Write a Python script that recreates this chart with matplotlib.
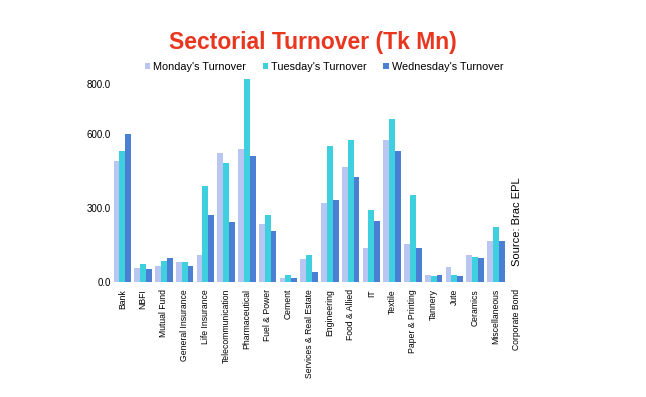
import matplotlib
matplotlib.use("Agg")
import matplotlib.pyplot as plt
import numpy as np

categories = ["Bank", "NBFI", "Mutual Fund", "General Insurance", "Life Insurance",
              "Telecommunication", "Pharmaceutical", "Fuel & Power", "Cement",
              "Services & Real Estate", "Engineering", "Food & Allied", "IT", "Textile",
              "Paper & Printing", "Tannery", "Jute", "Ceramics", "Miscellaneous",
              "Corporate Bond"]
monday = [490, 55, 65, 82, 109, 522, 538, 236, 15, 95, 320, 466, 136, 576, 155, 27, 62, 108, 166, 0]
tuesday = [532, 73, 85, 82, 389, 481, 823, 273, 27, 109, 551, 576, 292, 661, 353, 24, 27, 101, 223, 0]
wednesday = [600, 53, 97, 65, 273, 243, 511, 206, 15, 41, 331, 426, 247, 532, 136, 27, 24, 97, 166, 0]
series_names = ["Monday's Turnover", "Tuesday's Turnover", "Wednesday's Turnover"]
yticks = [0, 300, 600, 800]

colors = ["#b9c6f2", "#3fd0df", "#4b7fd3"]
plt.rcParams['font.family'] = ['Liberation Sans', 'DejaVu Sans']

fig = plt.figure(figsize=(6.46, 3.97), dpi=100)
W, H = 646, 397
left, right, bottom, top = 112, 527, 282, 77
ax = fig.add_axes([left / W, 1 - bottom / H, (right - left) / W, (bottom - top) / H])

x = np.arange(len(categories))
bw = 0.28
for i, (vals, name) in enumerate(zip([monday, tuesday, wednesday], series_names)):
    ax.bar(x + (i - 1) * bw, vals, bw, color=colors[i], label=name, edgecolor='none')

ax.set_xlim(-0.5, len(categories) - 0.5)
ax.set_ylim(0, 830)
ax.set_yticks(yticks)
ax.set_yticklabels([f"{v:.1f}" for v in yticks], fontsize=7)
ax.set_xticks(x)
ax.set_xticklabels(categories, rotation=90, fontsize=6.2)
ax.tick_params(axis='x', length=0, pad=5)
ax.tick_params(axis='y', length=0, pad=1)
for s in ax.spines.values():
    s.set_visible(False)

fig.text((170 + 455) / 2 / W, 1 - 43 / H, "Sectorial Turnover (Tk Mn)", color="#e8361f",
         fontsize=16.5, fontweight='bold', ha='center', va='center')
leg = fig.legend(loc='center', bbox_to_anchor=((142 + 506) / 2 / W, 1 - 67 / H), ncol=3,
                 frameon=False, fontsize=7.8, handlelength=0.5, handleheight=0.5,
                 handletextpad=0.3, columnspacing=1.5)
fig.text(517 / W, 1 - 222 / H, "Source: Brac EPL", rotation=90, fontsize=8,
         ha='center', va='center')

fig.savefig("out.png", dpi=100)
